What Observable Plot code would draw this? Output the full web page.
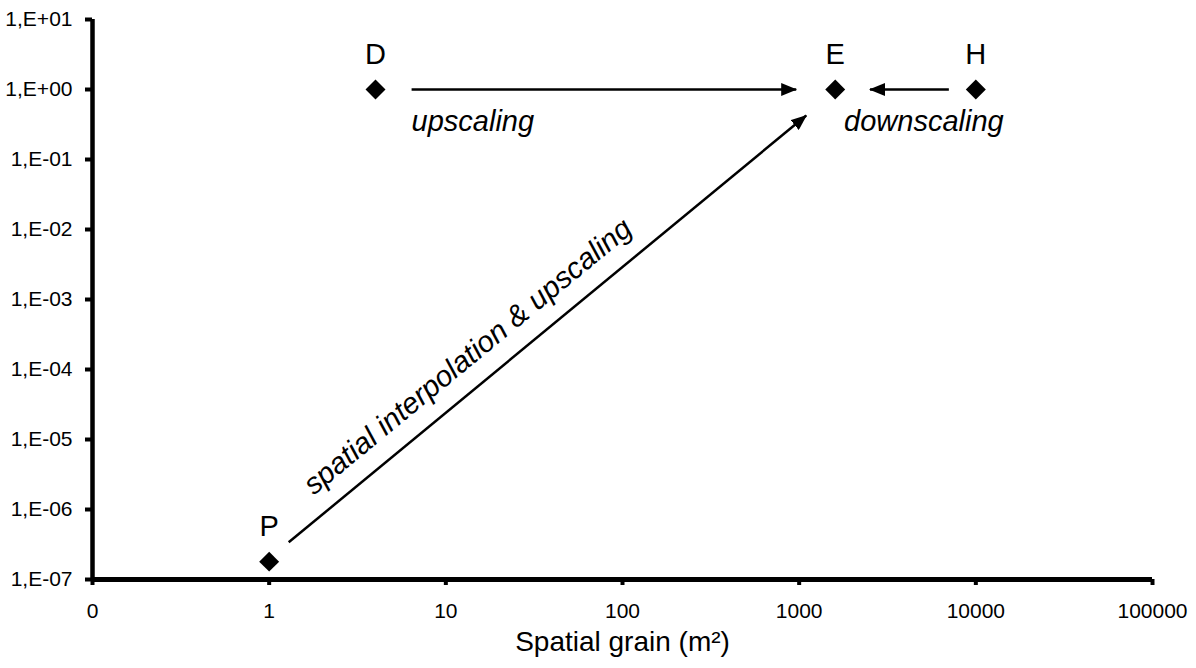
<!DOCTYPE html>
<html>
<head>
<meta charset="utf-8">
<script src="https://cdn.jsdelivr.net/npm/d3@7"></script>
<script src="https://cdn.jsdelivr.net/npm/@observablehq/plot@0.6"></script>
<style>
  html, body { margin: 0; padding: 0; background: #fff; }
  #chart { width: 1196px; height: 668px; }
</style>
</head>
<body>
<div id="chart"></div>
<script>
// ---- data ----
const pointNames = ["P", "D", "E", "H"];
const pointGrain = [1, 4, 1600, 10000];          // spatial grain (m²)
const pointExtent = [1.8e-7, 1, 1, 1];            // y value

const xTicks = [0.1, 1, 10, 100, 1000, 10000, 100000];
const xTickLabels = ["0", "1", "10", "100", "1000", "10000", "100000"];
const yTicks = [1e-7, 1e-6, 1e-5, 1e-4, 1e-3, 1e-2, 1e-1, 1, 10];
const yTickLabels = ["1,E-07", "1,E-06", "1,E-05", "1,E-04", "1,E-03", "1,E-02", "1,E-01", "1,E+00", "1,E+01"];

const arrowX1 = [6.4, 7035, 1.29];
const arrowY1 = [1, 1, 3.4e-7];
const arrowX2 = [962, 2518, 1096];
const arrowY2 = [1, 1, 0.425];

const annotText = ["upscaling", "downscaling"];
const annotX = [6.4, 1795];
const annotY = [1, 1];

const diagText = ["spatial interpolation & upscaling"];
const diagX = [13.3];
const diagY = [1.53e-4];

const xTitle = "Spatial grain (m²)";

// ---- build tables ----
const points = pointNames.map((n, i) => ({name: n, x: pointGrain[i], y: pointExtent[i]}));
const arrows = arrowX1.map((d, i) => ({x1: d, y1: arrowY1[i], x2: arrowX2[i], y2: arrowY2[i]}));
const annots = annotText.map((t, i) => ({t, x: annotX[i], y: annotY[i]}));
const diag = diagText.map((t, i) => ({t, x: diagX[i], y: diagY[i]}));
const xLab = new Map(xTicks.map((d, i) => [d, xTickLabels[i]]));
const yLab = new Map(yTicks.map((d, i) => [d, yTickLabels[i]]));

function triangleHead(color) {
  const ns = "http://www.w3.org/2000/svg";
  const m = document.createElementNS(ns, "marker");
  m.setAttribute("viewBox", "0 -6.5 16 13");
  m.setAttribute("refX", "15");
  m.setAttribute("refY", "0");
  m.setAttribute("markerUnits", "userSpaceOnUse");
  m.setAttribute("markerWidth", "16");
  m.setAttribute("markerHeight", "13");
  m.setAttribute("orient", "auto");
  const p = document.createElementNS(ns, "path");
  p.setAttribute("d", "M0,-6.5L16,0L0,6.5Z");
  p.setAttribute("fill", color);
  p.setAttribute("stroke", "none");
  m.appendChild(p);
  return m;
}

const font = "'Liberation Sans', Arial, Helvetica, sans-serif";

const chart = Plot.plot({
  width: 1196,
  height: 668,
  marginLeft: 92,
  marginRight: 44,
  marginTop: 19,
  marginBottom: 89,
  style: {fontFamily: font, background: "#fff", color: "#000"},
  x: {type: "log", domain: [0.1, 100000]},
  y: {type: "log", domain: [1e-7, 10]},
  marks: [
    Plot.axisX({ticks: xTicks, tickFormat: d => xLab.get(d), tickSize: 6, tickPadding: 18,
      strokeWidth: 4, fontSize: 21, label: null, stroke: "#000", fill: "#000"}),
    Plot.axisY({ticks: yTicks, tickFormat: d => yLab.get(d), tickSize: 7, tickPadding: 13,
      strokeWidth: 4, fontSize: 21, label: null, stroke: "#000", fill: "#000"}),
    Plot.ruleX([0.1], {stroke: "#000", strokeWidth: 4.5}),
    Plot.ruleY([1e-7], {stroke: "#000", strokeWidth: 5}),
    Plot.link(arrows, {x1: "x1", y1: "y1", x2: "x2", y2: "y2", stroke: "#000", strokeWidth: 2.5,
      markerEnd: triangleHead}),
    Plot.dot(points, {x: "x", y: "y", symbol: "diamond2", r: 9, fill: "#000", stroke: "none"}),
    Plot.text(points, {x: "x", y: "y", text: "name", dy: -35, fontSize: 29, fill: "#000"}),
    Plot.text(annots, {x: "x", y: "y", text: "t", dy: 32, textAnchor: "start", fontSize: 29,
      fontStyle: "italic", fill: "#000"}),
    Plot.text(diag, {x: "x", y: "y", text: "t", rotate: -39.5, fontSize: 29.5, fontStyle: "italic", fill: "#000"}),
    Plot.text([xTitle], {frameAnchor: "bottom", dy: 71, fontSize: 28, fill: "#000"})
  ]
});
document.getElementById("chart").appendChild(chart);
</script>
</body>
</html>
